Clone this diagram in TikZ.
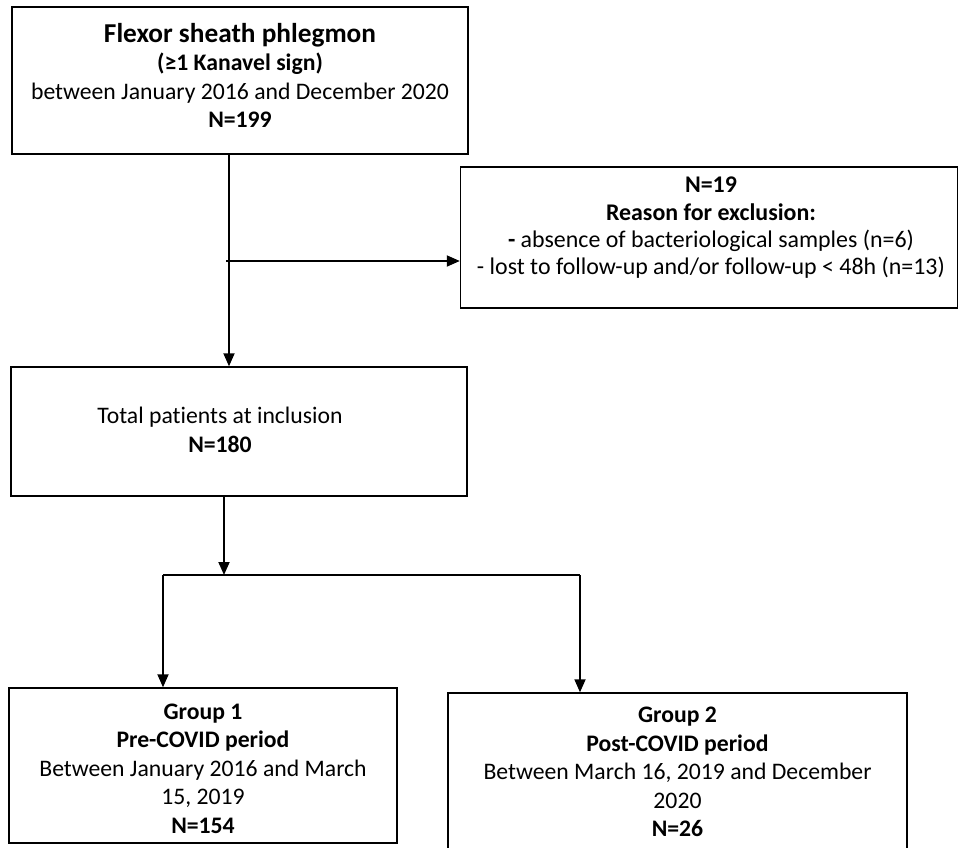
\documentclass[tikz,border=0pt]{standalone}
\usepackage{fontspec}
\setmainfont{Carlito}[Ligatures=NoCommon]
\usetikzlibrary{arrows.meta}

\begin{document}
\begin{tikzpicture}[x=1pt, y=-1pt,
                        box/.style={draw, line width=1.4pt, align=center, inner sep=0pt,
                                    font=\fontsize{23.7}{28.5}\selectfont},
                        txt/.style={align=center, inner sep=0pt,
                                    font=\fontsize{23.7}{28.5}\selectfont},
                        arr/.style={draw, line width=1.8pt, -{Triangle[length=13pt,width=11pt]}}]
    \useasboundingbox (0,0) rectangle (958,848);

    \node[box, minimum width=456pt, minimum height=147pt] (fsp) at (240,80.5) {};
    \node[txt] (fsplbl) at (240,75.5)
        {{\fontsize{27.3}{31}\selectfont\bfseries Flexor sheath phlegmon}\\
         \textbf{(≥1 Kanavel sign)}\\
         between January 2016 and December 2020\\
         \textbf{N=199}};

    \node[box, minimum width=497pt, minimum height=141pt] (excl) at (709,237.5) {};
    \node[txt, font=\fontsize{23.9}{27.3}\selectfont] (excllbl) at (711,228)
        {\textbf{N=19}\\
         \textbf{Reason for exclusion:}\\
         \textbf{-} absence of bacteriological samples (n=6)\\
         - lost to follow-up and/or follow-up < 48h (n=13)};

    \node[box, minimum width=456pt, minimum height=129pt] (tot) at (239,431.5) {};
    \node[txt] (totlbl) at (220,430) {Total patients at inclusion\\ \textbf{N=180}};

    \node[box, minimum width=388pt, minimum height=155pt] (g1) at (203,765.5) {};
    \node[txt] (g1lbl) at (203,768.5)
        {\textbf{Group 1}\\
         \textbf{Pre-COVID period}\\
         Between January 2016 and March\\
         15, 2019\\
         \textbf{N=154}};

    \node[box, minimum width=459pt, minimum height=158pt] (g2) at (677.5,772)
        {\textbf{Group 2}\\
         \textbf{Post-COVID period}\\
         Between March 16, 2019 and December\\
         2020\\
         \textbf{N=26}};

    % exclusions
    \draw[arr] ([xshift=-11pt]fsp.south) -- ([xshift=-10pt]tot.north);
    \coordinate (brk) at (226,261);
    \draw[arr] (brk) -- (brk -| excl.west);

    % split into the two periods
    \coordinate (split) at (224,575);
    \draw[arr] ([xshift=-15pt]tot.south) -- (split);
    \coordinate (lft) at (163,575);
    \coordinate (rgt) at (580,575);
    \draw[line width=1.8pt] (lft) -- (rgt);
    \draw[arr] (lft) -- (lft |- g1.north);
    \draw[arr] (rgt) -- (rgt |- g2.north);
\end{tikzpicture}
\end{document}
